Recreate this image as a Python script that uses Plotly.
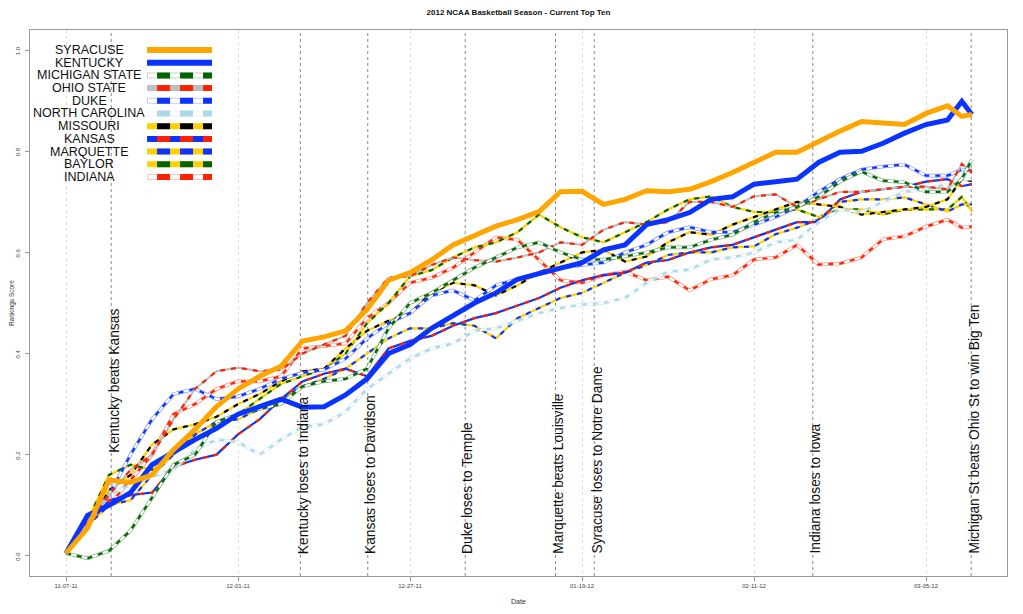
import plotly.graph_objects as go

# x = observation index (ticks every 24 obs), y = rankings score
DAY_IDX = [0, 3, 6, 9, 12, 15, 18, 21, 24, 27, 30, 33, 36, 39, 42, 45, 48, 51, 54, 57,
           60, 63, 66, 69, 72, 75, 78, 81, 84, 87, 90, 93, 96, 99, 102, 105, 108, 111,
           114, 117, 120, 123, 125, 126.4]

TICK_POS = [0, 24, 48, 72, 96, 120]
TICK_TEXT = ['11-07-11', '12-01-11', '12-27-11', '01-19-12', '02-11-12', '03-05-12']
Y_TICKS = [0, 0.2, 0.4, 0.6, 0.8, 1.0]
Y_TICK_TEXT = ['0.0', '0.2', '0.4', '0.6', '0.8', '1.0']

SYRACUSE = [0.005, 0.055, 0.15, 0.145, 0.16, 0.21, 0.25, 0.295, 0.33, 0.355, 0.375, 0.425,
            0.433, 0.445, 0.487, 0.545, 0.56, 0.585, 0.615, 0.633, 0.652, 0.665, 0.681, 0.72,
            0.721, 0.695, 0.705, 0.722, 0.72, 0.725, 0.74, 0.758, 0.778, 0.798, 0.798, 0.82,
            0.84, 0.859, 0.856, 0.853, 0.875, 0.89, 0.869, 0.873]
KENTUCKY = [0.005, 0.08, 0.1, 0.125, 0.18, 0.205, 0.23, 0.252, 0.28, 0.295, 0.31, 0.294,
            0.295, 0.318, 0.35, 0.40, 0.418, 0.45, 0.475, 0.5, 0.52, 0.547, 0.558, 0.57,
            0.58, 0.605, 0.615, 0.655, 0.665, 0.679, 0.705, 0.71, 0.735, 0.74, 0.745, 0.778,
            0.798, 0.80, 0.816, 0.836, 0.853, 0.862, 0.899, 0.873]
MICHIGAN_STATE = [0.005, -0.005, 0.01, 0.05, 0.115, 0.18, 0.2, 0.265, 0.28, 0.29, 0.3, 0.335,
                  0.345, 0.35, 0.37, 0.45, 0.5, 0.52, 0.545, 0.57, 0.59, 0.61, 0.62, 0.6,
                  0.586, 0.586, 0.592, 0.6, 0.61, 0.61, 0.625, 0.635, 0.66, 0.679, 0.69, 0.71,
                  0.74, 0.76, 0.742, 0.739, 0.72, 0.72, 0.745, 0.784]
OHIO_STATE = [0.005, 0.07, 0.12, 0.17, 0.2, 0.27, 0.33, 0.365, 0.372, 0.365, 0.368, 0.40,
              0.418, 0.435, 0.5, 0.55, 0.553, 0.575, 0.59, 0.585, 0.582, 0.59, 0.6, 0.62,
              0.615, 0.645, 0.66, 0.655, 0.66, 0.7, 0.7, 0.69, 0.711, 0.715, 0.69, 0.705,
              0.72, 0.72, 0.725, 0.73, 0.73, 0.725, 0.775, 0.758]
DUKE = [0.005, 0.07, 0.12, 0.2, 0.27, 0.32, 0.33, 0.31, 0.315, 0.33, 0.35, 0.362,
        0.368, 0.39, 0.43, 0.46, 0.48, 0.515, 0.525, 0.505, 0.535, 0.547, 0.56, 0.57,
        0.575, 0.58, 0.6, 0.615, 0.64, 0.65, 0.64, 0.64, 0.655, 0.67, 0.69, 0.72,
        0.745, 0.764, 0.77, 0.774, 0.752, 0.752, 0.764, 0.762]
NORTH_CAROLINA = [0.005, 0.06, 0.12, 0.14, 0.157, 0.17, 0.21, 0.23, 0.225, 0.2, 0.23, 0.255,
                  0.26, 0.285, 0.33, 0.36, 0.39, 0.41, 0.42, 0.445, 0.45, 0.465, 0.48, 0.49,
                  0.497, 0.5, 0.51, 0.54, 0.562, 0.566, 0.586, 0.59, 0.6, 0.62, 0.625, 0.66,
                  0.685, 0.68, 0.7, 0.72, 0.725, 0.735, 0.745, 0.745]
MISSOURI = [0.005, 0.06, 0.13, 0.16, 0.22, 0.25, 0.26, 0.275, 0.3, 0.32, 0.345, 0.365,
            0.37, 0.41, 0.445, 0.465, 0.48, 0.52, 0.54, 0.535, 0.515, 0.535, 0.56, 0.58,
            0.6, 0.605, 0.582, 0.592, 0.62, 0.64, 0.635, 0.655, 0.67, 0.685, 0.7, 0.695,
            0.69, 0.675, 0.68, 0.685, 0.69, 0.705, 0.745, 0.741]
KANSAS = [0.005, 0.06, 0.11, 0.12, 0.125, 0.176, 0.19, 0.2, 0.24, 0.27, 0.31, 0.345,
          0.36, 0.37, 0.355, 0.41, 0.425, 0.435, 0.455, 0.47, 0.48, 0.495, 0.51, 0.53,
          0.545, 0.555, 0.56, 0.58, 0.585, 0.6, 0.61, 0.615, 0.63, 0.645, 0.66, 0.66,
          0.705, 0.72, 0.725, 0.73, 0.74, 0.745, 0.731, 0.735]
MARQUETTE = [0.005, 0.06, 0.1, 0.11, 0.16, 0.2, 0.24, 0.265, 0.27, 0.29, 0.31, 0.335,
             0.35, 0.37, 0.4, 0.43, 0.45, 0.45, 0.46, 0.455, 0.43, 0.47, 0.49, 0.51,
             0.52, 0.54, 0.56, 0.575, 0.595, 0.6, 0.6, 0.61, 0.612, 0.636, 0.649, 0.665,
             0.7, 0.705, 0.705, 0.709, 0.695, 0.681, 0.695, 0.695]
BAYLOR = [0.005, 0.07, 0.16, 0.18, 0.17, 0.2, 0.24, 0.265, 0.28, 0.31, 0.34, 0.355,
          0.37, 0.4, 0.46, 0.5, 0.553, 0.565, 0.59, 0.61, 0.62, 0.64, 0.675, 0.65,
          0.63, 0.62, 0.64, 0.66, 0.685, 0.705, 0.711, 0.69, 0.68, 0.68, 0.685, 0.67,
          0.685, 0.685, 0.675, 0.685, 0.685, 0.685, 0.71, 0.681]
INDIANA = [0.005, 0.065, 0.1, 0.15, 0.2, 0.28, 0.3, 0.33, 0.345, 0.345, 0.355, 0.41,
           0.415, 0.42, 0.47, 0.5, 0.54, 0.55, 0.57, 0.6, 0.63, 0.625, 0.585, 0.545,
           0.54, 0.555, 0.562, 0.545, 0.552, 0.525, 0.547, 0.555, 0.586, 0.59, 0.615, 0.576,
           0.578, 0.59, 0.626, 0.632, 0.651, 0.665, 0.649, 0.651]

EVENT_X = [6.3, 32.7, 42.1, 55.7, 68.3, 73.7, 104.2, 126.3]
EVENT_Y = [0.2, 0, 0, 0, 0, 0, 0, 0]
EVENT_LABELS = ['Kentucky beats Kansas', 'Kentucky loses to Indiana', 'Kansas loses to Davidson',
                'Duke loses to Temple', 'Marquette beats Louisville', 'Syracuse loses to Notre Dame',
                'Indiana loses to Iowa', 'Michigan St beats Ohio St to win Big Ten']

# (name, values, base colour, dash colour) - dash colour None means solid thick line
TEAMS = [
    ('SYRACUSE', SYRACUSE, '#FFA500', None),
    ('KENTUCKY', KENTUCKY, '#0A33FF', None),
    ('MICHIGAN STATE', MICHIGAN_STATE, 'white', '#006400'),
    ('OHIO STATE', OHIO_STATE, '#BEBEBE', '#FF2200'),
    ('DUKE', DUKE, 'white', '#0A33FF'),
    ('NORTH CAROLINA', NORTH_CAROLINA, 'white', '#ADD8E6'),
    ('MISSOURI', MISSOURI, '#FFD000', 'black'),
    ('KANSAS', KANSAS, '#0A33FF', '#FF2200'),
    ('MARQUETTE', MARQUETTE, '#FFD000', '#0A33FF'),
    ('BAYLOR', BAYLOR, '#FFD000', '#006400'),
    ('INDIANA', INDIANA, 'white', '#FF2200'),
]

FONT = 'Liberation Sans, Arial, Helvetica, sans-serif'

fig = go.Figure()

# two-colour dashed teams first, thick solid teams on top
for name, vals, c1, c2 in TEAMS[2:][::-1]:
    if c1 == 'white':
        fig.add_trace(go.Scatter(x=DAY_IDX, y=vals, mode='lines', opacity=0.5,
                                 line=dict(color=c2, width=3.6), showlegend=False, hoverinfo='skip'))
    fig.add_trace(go.Scatter(x=DAY_IDX, y=vals, mode='lines',
                             line=dict(color=c1, width=2.2), showlegend=False, hoverinfo='skip'))
    fig.add_trace(go.Scatter(x=DAY_IDX, y=vals, mode='lines', name=name,
                             line=dict(color=c2, width=2.2, dash='5px,6px'), showlegend=False))

for name, vals, c1, c2 in [TEAMS[1], TEAMS[0]]:
    fig.add_trace(go.Scatter(x=DAY_IDX, y=vals, mode='lines', name=name,
                             line=dict(color=c1, width=5), showlegend=False))

# event markers
for ex, ey, lab in zip(EVENT_X, EVENT_Y, EVENT_LABELS):
    fig.add_vline(x=ex, line=dict(color='#888888', width=1, dash='3px,3px'), layer='below')
    fig.add_annotation(x=ex, y=ey, xref='x', yref='y', text=lab, textangle=-90, xshift=3,
                       showarrow=False, xanchor='center', yanchor='bottom',
                       font=dict(family=FONT, size=13.8, color='#111111'))

# y tick labels drawn parallel to the axis, close to it
for tv, tt in zip(Y_TICKS, Y_TICK_TEXT):
    fig.add_annotation(x=-0.0123, y=tv, xref='paper', yref='y', text=tt, textangle=-90,
                       showarrow=False, xanchor='center', yanchor='middle',
                       font=dict(family=FONT, size=6, color='#444444'))

# hand-built legend: label on the left, line sample on the right
row_top, row_step = 0.9634, 0.02326
for i, (name, vals, c1, c2) in enumerate(TEAMS):
    yy = row_top - i * row_step
    fig.add_annotation(x=0.0604, y=yy, xref='paper', yref='paper', text=name,
                       showarrow=False, xanchor='center', yanchor='middle',
                       font=dict(family=FONT, size=12.5, color='#111111'))
    fig.add_shape(type='line', xref='paper', yref='paper', x0=0.1198, x1=0.1863, y0=yy, y1=yy,
                  line=dict(color=c1, width=6))
    if c2 is not None:
        if c1 == 'white':
            fig.add_shape(type='line', xref='paper', yref='paper', x0=0.1198, x1=0.1863,
                          y0=yy, y1=yy, opacity=0.25, line=dict(color=c2, width=6))
            fig.add_shape(type='line', xref='paper', yref='paper', x0=0.1208, x1=0.1853,
                          y0=yy, y1=yy, line=dict(color='white', width=4))
        fig.add_shape(type='line', xref='paper', yref='paper', x0=0.1198, x1=0.1863, y0=yy, y1=yy,
                      line=dict(color=c2, width=6, dash='0px,10px,13px,0px'))

fig.add_annotation(x=0.5, y=-0.0476, xref='paper', yref='paper', text='Date', showarrow=False,
                   yanchor='middle', font=dict(family=FONT, size=7, color='#333333'))
fig.add_annotation(x=-0.0184, y=0.5, xref='paper', yref='paper', text='Rankings Score',
                   showarrow=False, textangle=-90, xanchor='center',
                   font=dict(family=FONT, size=6.5, color='#333333'))

# page body has an 8px margin, so the figure is sized / placed to compensate
fig.update_layout(
    width=1007, height=598,
    margin=dict(l=22, r=8, t=22, b=30),
    paper_bgcolor='white', plot_bgcolor='white',
    title=dict(text='<b>2012 NCAA Basketball Season - Current Top Ten</b>', x=0.5, xanchor='center',
               xref='paper', y=1 - 4 / 598, yanchor='middle',
               font=dict(family=FONT, size=8, color='#111111')),
    showlegend=False,
)
fig.update_xaxes(range=[-5.03, 131.3], tickvals=TICK_POS, ticktext=TICK_TEXT,
                 showgrid=True, gridcolor='#dcdcdc', griddash='3px,3px', gridwidth=1,
                 zeroline=False, showline=True, mirror=True, linecolor='#999999',
                 ticks='outside', ticklen=4, tickcolor='#999999', automargin=False,
                 tickfont=dict(family=FONT, size=6, color='#444444'))
fig.update_yaxes(range=[-0.04, 1.04], tickvals=Y_TICKS, showticklabels=False,
                 showgrid=False, zeroline=False, showline=True, mirror=True, linecolor='#999999',
                 ticks='outside', ticklen=4, tickcolor='#999999', automargin=False)

fig.write_html("out.html")
